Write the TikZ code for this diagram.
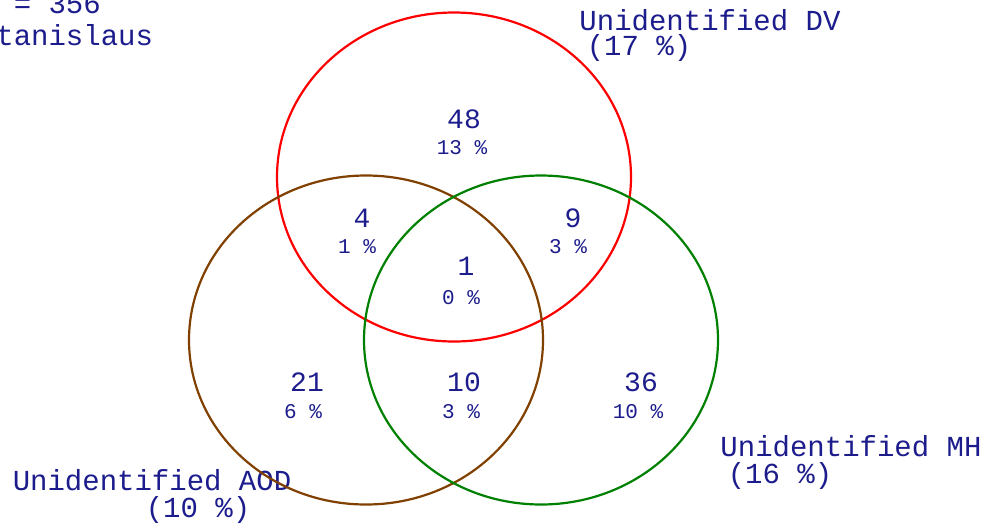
\documentclass[tikz,border=0pt]{standalone}
\usepackage{fontspec}
\newfontfamily\vennfont{Liberation Mono}
\usetikzlibrary{shapes.geometric}

\definecolor{txtblue}{RGB}{28,28,140}
\definecolor{aodbrown}{RGB}{128,64,0}
\definecolor{mhgreen}{RGB}{0,128,0}

\begin{document}
\begin{tikzpicture}[x=1pt, y=-1pt,
  every node/.style={inner sep=0pt, outer sep=0pt},
  setlabel/.style={anchor=base, text=txtblue, font=\vennfont\fontsize{29}{32}\selectfont},
  count/.style={anchor=base, text=txtblue, font=\vennfont\fontsize{28}{30}\selectfont},
  pct/.style={anchor=base, text=txtblue, font=\vennfont\fontsize{21}{24}\selectfont},
  setring/.style={draw, ellipse, line width=2.2pt, minimum width=354pt, minimum height=329pt}]

\useasboundingbox (0,0) rectangle (987,523);
\clip (0,0) rectangle (987,523);

% sample size (runs off the left edge)
\node[setlabel, anchor=base west] (total) at (-21,13) {N = 356};
\node[setlabel, anchor=base west] (county) at (-21,45) {Stanislaus};

% set names
\node[setlabel] (dvname) at (710,30) {Unidentified DV};
\node[setlabel] (dvshare) at (639,55) {(17 \%)};
\node[setlabel] (mhname) at (851,456) {Unidentified MH};
\node[setlabel] (mhshare) at (780,483) {(16 \%)};
\node[setlabel] (aodname) at (152,490) {Unidentified AOD};
\node[setlabel] (aodshare) at (198,517) {(10 \%)};

% counts and shares per region
\node[count] (ndv) at (464,128) {48};
\node[pct] (pdv) at (462,154) {13 \%};
\node[count] (ndvaod) at (362,227) {4};
\node[pct] (pdvaod) at (357,253) {1 \%};
\node[count] (ndvmh) at (573,227) {9};
\node[pct] (pdvmh) at (568,253) {3 \%};
\node[count] (nall) at (466,275) {1};
\node[pct] (pall) at (461,304) {0 \%};
\node[count] (naod) at (307,391) {21};
\node[pct] (paod) at (303,418) {6 \%};
\node[count] (naodmh) at (464,391) {10};
\node[pct] (paodmh) at (461,418) {3 \%};
\node[count] (nmh) at (641,391) {36};
\node[pct] (pmh) at (638,418) {10 \%};

% the three sets
\node[setring, draw=red] (dv) at (454,177) {};
\node[setring, draw=aodbrown] (aod) at (366,340) {};
\node[setring, draw=mhgreen] (mh) at (541,340) {};

\end{tikzpicture}
\end{document}
